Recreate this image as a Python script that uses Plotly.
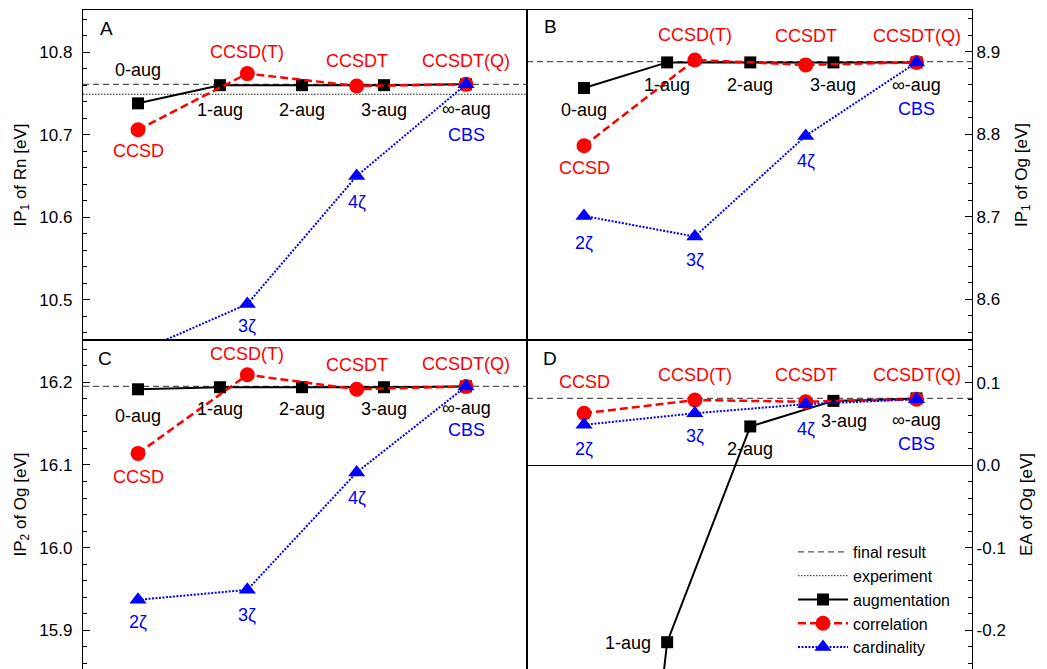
import plotly.graph_objects as go

# ---------------- data ----------------
aug_labels = ["0-aug", "1-aug", "2-aug", "3-aug", "∞-aug"]
corr_labels = ["CCSD", "CCSD(T)", "CCSDT", "CCSDT(Q)"]
card_labels = ["2ζ", "3ζ", "4ζ", "CBS"]
aug_pos = [0, 1, 2, 3, 4]
step_pos = [0, 4 / 3, 8 / 3, 4]

# Panel A: IP1 of Rn
rn_ip1_aug = [10.738, 10.760, 10.760, 10.760, 10.761]
rn_ip1_corr = [10.706, 10.774, 10.759, 10.761]
rn_ip1_card = [10.437, 10.495, 10.650, 10.761]
rn_ip1_final = 10.761
rn_ip1_exp = 10.749
rn_ip1_ticks = [10.5, 10.6, 10.7, 10.8]
rn_ip1_ticktext = ["10.5", "10.6", "10.7", "10.8"]

# Panel B: IP1 of Og
og_ip1_aug = [8.856, 8.887, 8.887, 8.887, 8.887]
og_ip1_corr = [8.786, 8.890, 8.884, 8.887]
og_ip1_card = [8.701, 8.676, 8.798, 8.887]
og_ip1_final = 8.888
og_ip1_ticks = [8.6, 8.7, 8.8, 8.9]
og_ip1_ticktext = ["8.6", "8.7", "8.8", "8.9"]

# Panel C: IP2 of Og
og_ip2_aug = [16.1915, 16.194, 16.194, 16.194, 16.195]
og_ip2_corr = [16.114, 16.209, 16.1915, 16.195]
og_ip2_card = [15.937, 15.949, 16.091, 16.195]
og_ip2_final = 16.195
og_ip2_ticks = [15.9, 16.0, 16.1, 16.2]
og_ip2_ticktext = ["15.9", "16.0", "16.1", "16.2"]

# Panel D: EA of Og
og_ea_aug = [-1.10, -0.2145, 0.047, 0.078, 0.081]
og_ea_corr = [0.063, 0.079, 0.077, 0.080]
og_ea_card = [0.049, 0.063, 0.074, 0.080]
og_ea_final = 0.081
og_ea_ticks = [-0.2, -0.1, 0.0, 0.1]
og_ea_ticktext = ["-0.2", "-0.1", "0.0", "0.1"]

# ---------------- layout / style ----------------
# The page body has an 8px margin, so the figure is sized to fit the window.
W, H = 1039, 661
OX, OY = 8, 8
FONT = "Liberation Sans, Arial, sans-serif"
FS = 17      # tick labels / titles
LFS = 18     # point labels
BLACK, RED, BLUE = "#000000", "#ff0000", "#0000ff"
FRAME_W = 1.3


def fx(px):
    return (px - OX) / W


def fy(py):
    return (H + OY - py) / H


xl, xm, xr = fx(83), fx(527), fx(972)
y_top, y_mid, y_bot = fy(10), fy(340), 0.0

panels = [
    dict(letter="A", xa="x", ya="y", aug=rn_ip1_aug, corr=rn_ip1_corr, card=rn_ip1_card,
         final=rn_ip1_final, exp=rn_ip1_exp, tv=rn_ip1_ticks, tt=rn_ip1_ticktext,
         xrange=[-0.671, 4.744], yrange=[10.4515, 10.851], side="left",
         title="IP<sub>1</sub> of Rn [eV]", dom_x=[xl, xm], dom_y=[y_mid, y_top],
         letter_pos=(0.052, 0.945),
         aug_off=[(0, 33), (0, -25), (0, -25), (0, -25), (0, -25)],
         corr_off=[(0, -21), (0, 22), (0, 25), (0, 23)],
         card_off=[(0, -22), (0, -22), (0, -26), (0, -51)]),
    dict(letter="B", xa="x2", ya="y2", aug=og_ip1_aug, corr=og_ip1_corr, card=og_ip1_card,
         final=og_ip1_final, exp=None, tv=og_ip1_ticks, tt=og_ip1_ticktext,
         xrange=[-0.686, 4.667], yrange=[8.5507, 8.9505], side="right",
         title="IP<sub>1</sub> of Og [eV]", dom_x=[xm, xr], dom_y=[y_mid, y_top],
         letter_pos=(0.052, 0.949),
         aug_off=[(0, -22), (0, -23), (0, -23), (0, -23), (0, -23)],
         corr_off=[(0, -22), (0, 25), (0, 29), (0, 26)],
         card_off=[(0, -27), (0, -23), (0, -25), (0, -47)]),
    dict(letter="C", xa="x3", ya="y3", aug=og_ip2_aug, corr=og_ip2_corr, card=og_ip2_card,
         final=og_ip2_final, exp=None, tv=og_ip2_ticks, tt=og_ip2_ticktext,
         xrange=[-0.671, 4.744], yrange=[15.8533, 16.2511], side="left",
         title="IP<sub>2</sub> of Og [eV]", dom_x=[xl, xm], dom_y=[y_bot, y_mid],
         letter_pos=(0.05, 0.945),
         aug_off=[(0, -27), (0, -22), (0, -22), (0, -22), (0, -22)],
         corr_off=[(0, -24), (0, 21), (0, 24), (0, 22)],
         card_off=[(0, -22), (0, -25), (0, -26), (0, -44)]),
    dict(letter="D", xa="x4", ya="y4", aug=og_ea_aug, corr=og_ea_corr, card=og_ea_card,
         final=og_ea_final, exp=None, tv=og_ea_ticks, tt=og_ea_ticktext,
         xrange=[-0.686, 4.667], yrange=[-0.2470, 0.1518], side="right",
         title="EA of Og [eV]", dom_x=[xm, xr], dom_y=[y_bot, y_mid],
         letter_pos=(0.052, 0.945),
         aug_off=[(0, -22), (-39, -1), (0, -23), (11, -20), (0, -22)],
         corr_off=[(0, 31), (0, 25), (0, 27), (0, 24)],
         card_off=[(0, -24), (0, -23), (0, -25), (0, -45)]),
]

fig = go.Figure()
shapes = []
annotations = []
layout_axes = {}

for p in panels:
    first = (p["letter"] == "D")
    fig.add_trace(go.Scatter(
        x=aug_pos, y=p["aug"], mode="lines+markers", name="augmentation",
        xaxis=p["xa"], yaxis=p["ya"], legendgroup="aug", showlegend=first, legendrank=3,
        line=dict(color=BLACK, width=2),
        marker=dict(symbol="square", size=12, color=BLACK)))
    fig.add_trace(go.Scatter(
        x=step_pos, y=p["corr"], mode="lines+markers", name="correlation",
        xaxis=p["xa"], yaxis=p["ya"], legendgroup="corr", showlegend=first, legendrank=4,
        line=dict(color=RED, width=2.5, dash="8px,4px"),
        marker=dict(symbol="circle", size=15, color=RED)))
    fig.add_trace(go.Scatter(
        x=step_pos, y=p["card"], mode="lines+markers", name="cardinality",
        xaxis=p["xa"], yaxis=p["ya"], legendgroup="card", showlegend=first, legendrank=5,
        line=dict(color=BLUE, width=2, dash="2px,1.5px"),
        marker=dict(symbol="triangle-up", size=15, color=BLUE)))

    xd = p["xa"] + " domain"
    shapes.append(dict(type="line", xref=xd, x0=0, x1=1, yref=p["ya"],
                       y0=p["final"], y1=p["final"], layer="below",
                       line=dict(color="#555555", width=1.2, dash="6px,4px"),
                       name="final result", showlegend=first, legendrank=1))
    if p["exp"] is not None:
        shapes.append(dict(type="line", xref=xd, x0=0, x1=1, yref=p["ya"],
                           y0=p["exp"], y1=p["exp"], layer="below",
                           line=dict(color="#222222", width=1, dash="1.5px,1.5px"),
                           name="experiment", showlegend=True, legendrank=2))

    lo, hi = p["yrange"]

    def add_labels(xs, ys, labels, offs, color):
        for xv, yv, t, (dx, dy) in zip(xs, ys, labels, offs):
            if not (lo <= yv <= hi):
                continue
            annotations.append(dict(x=xv, y=yv, xref=p["xa"], yref=p["ya"], text=t,
                                    showarrow=False, xshift=dx, yshift=dy,
                                    xanchor="center", yanchor="middle",
                                    font=dict(family=FONT, size=LFS, color=color)))

    add_labels(aug_pos, p["aug"], aug_labels, p["aug_off"], BLACK)
    add_labels(step_pos, p["corr"], corr_labels, p["corr_off"], RED)
    add_labels(step_pos, p["card"], card_labels, p["card_off"], BLUE)

    lx, ly = p["letter_pos"]
    annotations.append(dict(x=lx, y=ly, xref=xd, yref=p["ya"] + " domain",
                            text=p["letter"], showarrow=False,
                            xanchor="center", yanchor="middle",
                            font=dict(family=FONT, size=19, color=BLACK)))

    left = p["side"] == "left"
    xkey = "xaxis" if p["xa"] == "x" else "xaxis" + p["xa"][1:]
    ykey = "yaxis" if p["ya"] == "y" else "yaxis" + p["ya"][1:]
    layout_axes[xkey] = dict(domain=p["dom_x"], anchor=p["ya"], range=p["xrange"],
                             showticklabels=False, ticks="", showgrid=False, zeroline=False,
                             showline=True, mirror=True, linecolor=BLACK, linewidth=FRAME_W)
    layout_axes[ykey] = dict(domain=p["dom_y"], anchor=p["xa"], range=p["yrange"],
                             side=p["side"], tickmode="array", tickvals=p["tv"], ticktext=p["tt"],
                             ticks="inside", ticklen=7, tickcolor=BLACK, tickwidth=1,
                             ticklabelstandoff=6 if left else 0,
                             minor=dict(tick0=0, dtick=0.02, ticks="inside", ticklen=4,
                                        tickcolor=BLACK, tickwidth=1, showgrid=False),
                             showgrid=False, zeroline=(p["letter"] == "D"),
                             zerolinecolor=BLACK, zerolinewidth=1,
                             showline=True, mirror=True, linecolor=BLACK, linewidth=FRAME_W,
                             tickfont=dict(family=FONT, size=FS, color=BLACK),
                             title=dict(text=p["title"], standoff=8 if left else 15,
                                        font=dict(family=FONT, size=FS, color=BLACK)))

fig.update_layout(
    width=W, height=H,
    margin=dict(l=0, r=0, t=0, b=0),
    paper_bgcolor="white", plot_bgcolor="white",
    font=dict(family=FONT, size=FS, color=BLACK),
    shapes=shapes, annotations=annotations,
    showlegend=True,
    legend=dict(x=fx(955), xanchor="right", y=fy(664), yanchor="bottom",
                bgcolor="rgba(0,0,0,0)", font=dict(family=FONT, size=16, color=BLACK),
                tracegroupgap=0, itemwidth=50),
    **layout_axes,
)

fig.write_html("out.html")
